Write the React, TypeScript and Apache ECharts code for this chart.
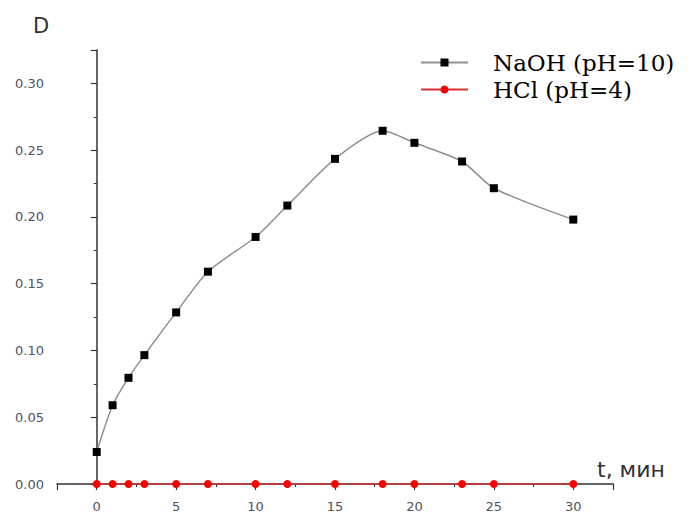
import React, { useEffect, useRef } from "react";
import * as echarts from "echarts";

const timeMin = [0, 1, 2, 3, 5, 7, 10, 12, 15, 18, 20, 23, 25, 30];
const naohD = [0.024, 0.059, 0.0795, 0.0965, 0.1285, 0.159, 0.185, 0.2085, 0.2435, 0.2645, 0.2555, 0.2415, 0.2215, 0.198];
const hclD = [0, 0, 0, 0, 0, 0, 0, 0, 0, 0, 0, 0, 0, 0];
const seriesNames = ["NaOH (pH=10)", "HCl (pH=4)"];
const yAxisTitle = "D";
const xAxisTitle = "t, мин";

export default function App() {
  const ref = useRef<HTMLDivElement>(null);
  useEffect(() => {
    document.body.style.margin = "0";
    const chart = echarts.init(ref.current!, null, { renderer: "svg" });
    const labelColor = "#4f5260";
    const axisColor = "#333";
    chart.setOption({
      animation: false,
      backgroundColor: "#fff",
      grid: { left: 57, right: 81, top: 50, bottom: 26 },
      legend: {
        orient: "vertical",
        left: 415,
        top: 46,
        itemWidth: 47,
        itemHeight: 10,
        itemGap: 4,
        data: seriesNames,
        textStyle: {
          fontFamily: "DejaVu Serif",
          fontSize: 23,
          color: "#000",
          padding: [0, 0, 0, 20],
        },
      },
      xAxis: {
        type: "value",
        min: -2.5,
        max: 32.5,
        splitNumber: 7,
        axisLine: { lineStyle: { color: axisColor, width: 1.5 } },
        axisTick: { length: 6, lineStyle: { color: axisColor, width: 1.2 } },
        minorTick: { show: true, splitNumber: 2, length: 3, lineStyle: { color: axisColor } },
        splitLine: { show: false },
        axisLabel: {
          showMinLabel: false,
          showMaxLabel: false,
          margin: 16,
          fontFamily: "DejaVu Sans",
          fontSize: 13,
          color: labelColor,
        },
      },
      yAxis: {
        type: "value",
        min: 0,
        max: 0.325,
        interval: 0.05,
        axisLine: { show: true, lineStyle: { color: axisColor, width: 1.5 } },
        axisTick: { show: true, length: 6, lineStyle: { color: axisColor, width: 1.2 } },
        minorTick: { show: true, splitNumber: 2, length: 3, lineStyle: { color: axisColor } },
        splitLine: { show: false },
        axisLabel: {
          showMaxLabel: false,
          margin: 13,
          fontFamily: "DejaVu Sans",
          fontSize: 13,
          color: labelColor,
          formatter: (v: number) => v.toFixed(2),
        },
      },
      series: [
        {
          name: seriesNames[0],
          type: "line",
          data: timeMin.map((t, i) => [t, naohD[i]]),
          smooth: 0.25,
          symbol: "rect",
          symbolSize: 8,
          itemStyle: { color: "#000" },
          lineStyle: { color: "#8f8f8f", width: 1.5 },
        },
        {
          name: seriesNames[1],
          type: "line",
          data: timeMin.map((t, i) => [t, hclD[i]]),
          symbol: "circle",
          symbolSize: 8,
          itemStyle: { color: "#ff0000" },
          lineStyle: { color: "#d83030", width: 1.5 },
        },
      ],
      graphic: [
        {
          type: "text",
          left: 33,
          top: 15,
          style: { text: yAxisTitle, fontFamily: "DejaVu Sans", fontSize: 21, fill: "#333" },
        },
        {
          type: "text",
          left: 597,
          top: 458,
          style: { text: xAxisTitle, fontFamily: "DejaVu Sans", fontSize: 22, fill: "#333" },
        },
      ],
    });
    return () => chart.dispose();
  }, []);
  return <div ref={ref} style={{ width: 694, height: 513 }} />;
}
